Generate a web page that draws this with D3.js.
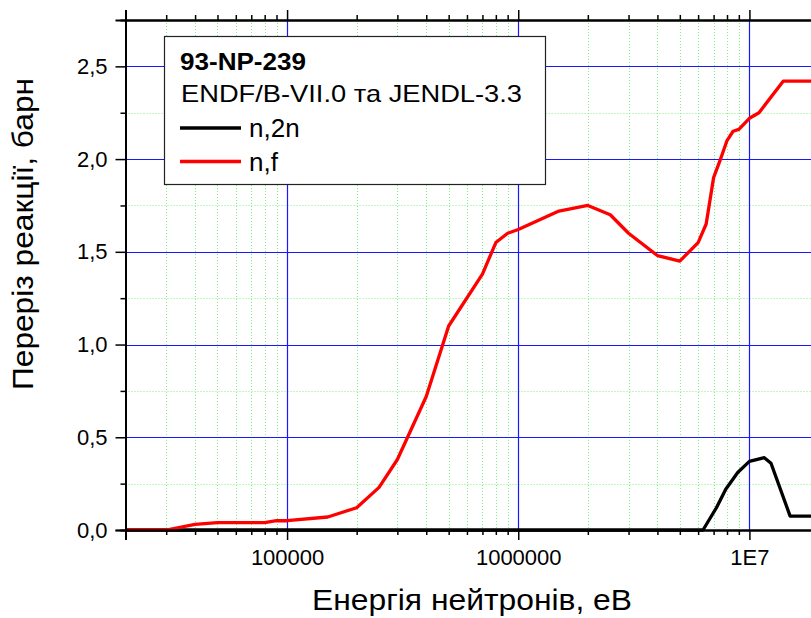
<!DOCTYPE html>
<html>
<head>
<meta charset="utf-8">
<script src="https://cdn.jsdelivr.net/npm/d3@7"></script>
<style>
  body { margin: 0; background: #fff; }
  svg { font-family: "Liberation Sans", Arial, sans-serif; display: block; }
  .axis path { stroke: #000; stroke-width: 2; }
  .axis line { stroke: #000; stroke-width: 1.5; }
  .axis text { font-size: 22px; fill: #000; font-family: "Liberation Sans", Arial, sans-serif; }
</style>
</head>
<body>
<div id="chart"></div>
<script>
// Data
var energyF = [2e4, 3e4, 4e4, 5e4, 8e4, 9e4, 1e5, 1.5e5, 2e5, 2.5e5, 3e5, 4e5, 5e5, 7e5, 8e5, 9e5, 1e6,
    1.5e6, 2e6, 2.5e6, 3e6, 4e6, 5e6, 6e6, 6.5e6, 7e6, 7.5e6, 8e6, 8.5e6, 9e6, 1e7, 1.1e7, 1.4e7, 2e7];
var sigmaF = [0, 0, 0.03, 0.04, 0.04, 0.05, 0.05, 0.07, 0.12, 0.23, 0.38, 0.72, 1.10, 1.38, 1.55, 1.60, 1.62,
    1.72, 1.75, 1.70, 1.60, 1.48, 1.45, 1.55, 1.65, 1.90, 2.00, 2.10, 2.15, 2.16, 2.22, 2.25, 2.42, 2.42];

var energy2n = [2e4, 6.3e6, 7.2e6, 7.9e6, 8.9e6, 1e7, 1.16e7, 1.24e7, 1.5e7, 2e7];
var sigma2n = [0, 0, 0.12, 0.22, 0.31, 0.37, 0.39, 0.36, 0.075, 0.075];

var xMajorTicks = [1e5, 1e6, 1e7];
var xTickLabels = ["100000", "1000000", "1E7"];
var yMajorTicks = [0, 0.5, 1.0, 1.5, 2.0, 2.5];
var yTickLabels = ["0,0", "0,5", "1,0", "1,5", "2,0", "2,5"];

var legendTitle = "93-NP-239";
var legendSubtitle = "ENDF/B-VII.0 та JENDL-3.3";
var seriesNames = ["n,2n", "n,f"];
var seriesColors = ["#000000", "#ff0000"];

var xTitle = "Енергія нейтронів, еВ";
var yTitle = "Переріз реакції, барн";

// SVG area
var svgWidth = 811;
var svgHeight = 618;

var plotLeft = 125.5;
var plotRight = 819;
var plotTop = 20;
var plotBottom = 530;

var svg = d3.select("#chart")
    .append("svg")
    .attr("width", svgWidth)
    .attr("height", svgHeight);

var xScale = d3.scaleLog()
    .domain([2e4, 2e7])
    .range([plotLeft, plotRight]);

var yScale = d3.scaleLinear()
    .domain([0, 2.75])
    .range([plotBottom, plotTop]);

// minor tick values
var xMinorTicks = [];
[1e4, 1e5, 1e6, 1e7].forEach(function(dec) {
    for (var k = 2; k <= 9; k++) {
        var v = dec * k;
        if (v >= 2e4 && v <= 2e7) xMinorTicks.push(v);
    }
});
var yMinorTicks = [0.25, 0.75, 1.25, 1.75, 2.25];

// grid
var grid = svg.append("g");

grid.selectAll(".vminor")
    .data(xMinorTicks)
    .enter()
    .append("line")
    .attr("x1", d => Math.round(xScale(d)) + 0.5)
    .attr("x2", d => Math.round(xScale(d)) + 0.5)
    .attr("y1", plotTop)
    .attr("y2", plotBottom)
    .attr("stroke", "#80f080")
    .attr("stroke-width", 1)
    .attr("stroke-dasharray", "1,2");

grid.selectAll(".hminor")
    .data(yMinorTicks)
    .enter()
    .append("line")
    .attr("x1", plotLeft)
    .attr("x2", plotRight)
    .attr("y1", d => Math.round(yScale(d)) + 0.5)
    .attr("y2", d => Math.round(yScale(d)) + 0.5)
    .attr("stroke", "#80f080")
    .attr("stroke-width", 1)
    .attr("stroke-dasharray", "1,2");

grid.selectAll(".vmajor")
    .data(xMajorTicks)
    .enter()
    .append("line")
    .attr("x1", d => Math.round(xScale(d)) + 0.5)
    .attr("x2", d => Math.round(xScale(d)) + 0.5)
    .attr("y1", plotTop)
    .attr("y2", plotBottom)
    .attr("stroke", "#1818ff")
    .attr("stroke-width", 1.2);

grid.selectAll(".hmajor")
    .data(yMajorTicks.slice(1))
    .enter()
    .append("line")
    .attr("x1", plotLeft)
    .attr("x2", plotRight)
    .attr("y1", d => Math.round(yScale(d)) + 0.5)
    .attr("y2", d => Math.round(yScale(d)) + 0.5)
    .attr("stroke", "#1818ff")
    .attr("stroke-width", 1.2);

// curves
var line = d3.line()
    .x(d => xScale(d[0]))
    .y(d => yScale(d[1]));

var series = [
    d3.zip(energy2n, sigma2n),
    d3.zip(energyF, sigmaF)
];

svg.selectAll(".curve")
    .data(series)
    .enter()
    .append("path")
    .attr("d", line)
    .attr("fill", "none")
    .attr("stroke", (d, i) => seriesColors[i])
    .attr("stroke-width", 3.3)
    .attr("stroke-linejoin", "round");

// axes
var bottomMinor = d3.axisBottom(xScale).tickValues(xMinorTicks).tickSize(5).tickFormat("");
var bottomMajor = d3.axisBottom(xScale).tickValues(xMajorTicks).tickSize(10).tickPadding(9)
    .tickFormat((d, i) => xTickLabels[i]);
var topMinor = d3.axisTop(xScale).tickValues(xMinorTicks).tickSize(5).tickFormat("");
var topMajor = d3.axisTop(xScale).tickValues(xMajorTicks).tickSize(10).tickFormat("");
var leftMinor = d3.axisLeft(yScale).tickValues(yMinorTicks).tickSize(5).tickFormat("");
var leftMajor = d3.axisLeft(yScale).tickValues(yMajorTicks).tickSize(10).tickPadding(8)
    .tickFormat((d, i) => yTickLabels[i]);

svg.append("g").attr("class", "axis").attr("transform", `translate(0, ${plotBottom})`).call(bottomMinor);
svg.append("g").attr("class", "axis").attr("transform", `translate(0, ${plotBottom})`).call(bottomMajor);
svg.append("g").attr("class", "axis").attr("transform", `translate(0, ${plotTop})`).call(topMinor);
svg.append("g").attr("class", "axis").attr("transform", `translate(0, ${plotTop})`).call(topMajor);
svg.append("g").attr("class", "axis").attr("transform", `translate(${plotLeft}, 0)`).call(leftMinor);
svg.append("g").attr("class", "axis").attr("transform", `translate(${plotLeft}, 0)`).call(leftMajor);

// axis titles
svg.append("text")
    .attr("x", 472)
    .attr("y", 610)
    .attr("text-anchor", "middle")
    .attr("font-size", "29px")
    .attr("textLength", 320)
    .attr("lengthAdjust", "spacingAndGlyphs")
    .attr("fill", "#000")
    .text(xTitle);

svg.append("text")
    .attr("transform", "rotate(-90)")
    .attr("x", -234)
    .attr("y", 33)
    .attr("text-anchor", "middle")
    .attr("font-size", "29px")
    .attr("textLength", 312)
    .attr("lengthAdjust", "spacingAndGlyphs")
    .attr("fill", "#000")
    .text(yTitle);

// legend
var legend = svg.append("g");

legend.append("rect")
    .attr("x", 164.5)
    .attr("y", 36.5)
    .attr("width", 381)
    .attr("height", 148)
    .attr("fill", "#fff")
    .attr("stroke", "#222")
    .attr("stroke-width", 1.2);

legend.append("text")
    .attr("x", 180)
    .attr("y", 70)
    .attr("font-size", "24px")
    .attr("font-weight", "bold")
    .attr("textLength", 126)
    .attr("lengthAdjust", "spacingAndGlyphs")
    .attr("fill", "#000")
    .text(legendTitle);

legend.append("text")
    .attr("x", 181)
    .attr("y", 102)
    .attr("font-size", "24px")
    .attr("textLength", 341)
    .attr("lengthAdjust", "spacingAndGlyphs")
    .attr("fill", "#000")
    .text(legendSubtitle);

var legendItems = legend.selectAll(".item")
    .data(seriesNames)
    .enter()
    .append("g")
    .attr("transform", (d, i) => `translate(0, ${128 + i * 33.5})`);

legendItems.append("line")
    .attr("x1", 180)
    .attr("x2", 241)
    .attr("y1", 0)
    .attr("y2", 0)
    .attr("stroke", (d, i) => seriesColors[i])
    .attr("stroke-width", 3.3);

legendItems.append("text")
    .attr("x", 249)
    .attr("y", 9)
    .attr("font-size", "26px")
    .attr("fill", "#000")
    .text(d => d);
</script>
</body>
</html>
